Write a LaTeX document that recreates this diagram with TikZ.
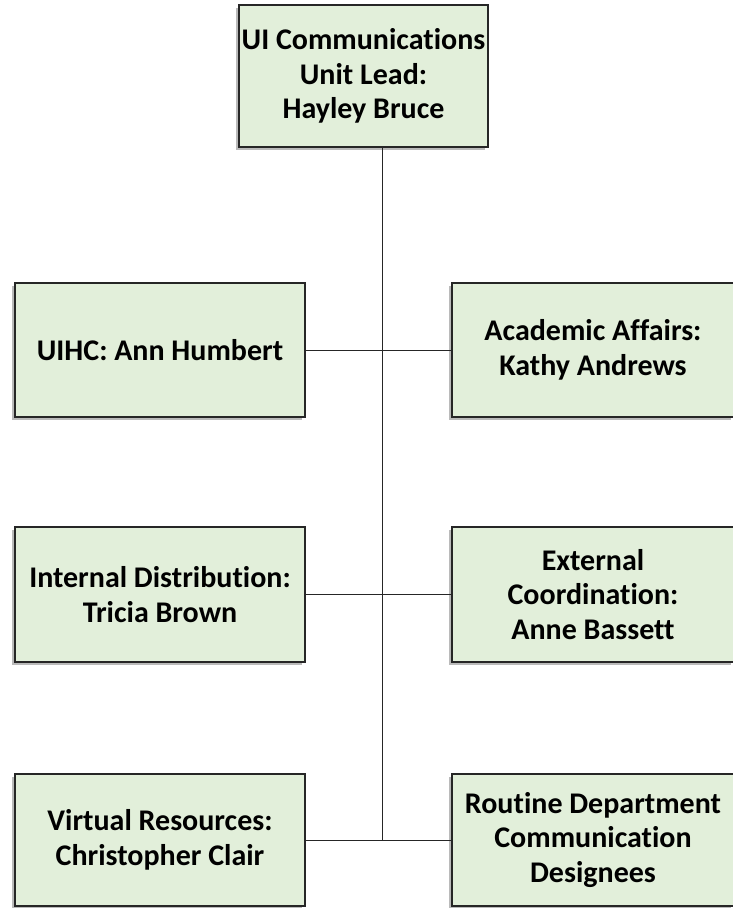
\documentclass[tikz,border=0pt]{standalone}
\usepackage{fontspec}
\setmainfont[Ligatures=CommonOff]{Carlito}
\usepackage{xcolor}
\usetikzlibrary{shadows}
\usetikzlibrary{calc}

\definecolor{boxgreen}{HTML}{E2EFDA}

\tikzset{
  unitbox/.style={draw=black!85, line width=2pt, fill=boxgreen, inner sep=0pt,
    minimum width=290pt, minimum height=134pt,
    drop shadow={shadow xshift=-3pt, shadow yshift=-3pt, opacity=0.45, fill=black!60}},
  unittext/.style={align=center, inner sep=0pt,
    font=\fontsize{30}{34.5}\selectfont\bfseries},
  link/.style={black!85, line width=1pt}
}

\begin{document}
\begin{tikzpicture}[x=1pt,y=-1pt]
\useasboundingbox[fill=white] (0,0) rectangle (732,908);
% boxes
\node[unitbox, minimum width=249pt, minimum height=142pt] (lead) at (363.5,76) {};
\node[unitbox] (uihc) at (160,350) {};
\node[unitbox, minimum width=282pt] (acad) at (593,350) {};
\node[unitbox, minimum height=135pt] (intdist) at (160,594.5) {};
\node[unitbox, minimum width=282pt, minimum height=135pt] (extcoord) at (593,594.5) {};
\node[unitbox, minimum height=132pt] (virtual) at (160,840) {};
\node[unitbox, minimum width=282pt, minimum height=132pt] (routine) at (593,840) {};
% connectors
\coordinate (trunk) at (382,840);
\draw[link] (lead.south -| trunk) -- (trunk);
\draw[link] (uihc.east) -- (acad.west);
\draw[link] (intdist.east) -- (extcoord.west);
\draw[link] (virtual.east) -- (routine.west);
% texts
\node[unittext] (lead-txt) at (lead) {UI Communications\\Unit Lead:\\Hayley Bruce};
\node[unittext] (uihc-txt) at (uihc) {UIHC: Ann Humbert};
\node[unittext] (acad-txt) at (acad) {Academic Affairs:\\Kathy Andrews};
\node[unittext] (intdist-txt) at (intdist) {Internal Distribution:\\Tricia Brown};
\node[unittext] (extcoord-txt) at (extcoord) {External\\Coordination:\\Anne Bassett};
\node[unittext] (virtual-txt) at (virtual) {Virtual Resources:\\Christopher Clair};
\node[unittext] (routine-txt) at (routine) {Routine Department\\Communication\\Designees};
\end{tikzpicture}
\end{document}
